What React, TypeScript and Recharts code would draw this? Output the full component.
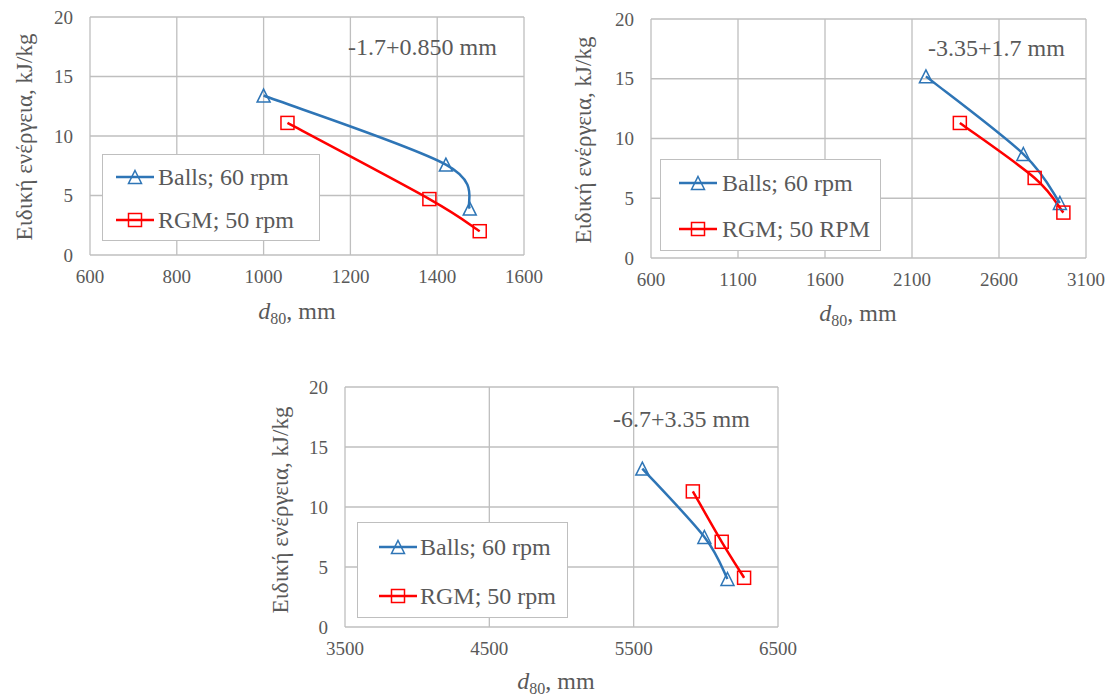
import { LineChart, Line, XAxis, YAxis, CartesianGrid } from 'recharts';

// shared y axis
const yTicks = [0, 5, 10, 15, 20];

// panel 1: -1.7+0.850 mm
const xTicks1 = [600, 800, 1000, 1200, 1400, 1600];
const balls1X = [1000, 1420, 1475];
const balls1Y = [13.4, 7.6, 3.9];
const rgm1X = [1055, 1382, 1498];
const rgm1Y = [11.1, 4.7, 2.0];

// panel 2: -3.35+1.7 mm
const xTicks2 = [600, 1100, 1600, 2100, 2600, 3100];
const balls2X = [2180, 2740, 2950];
const balls2Y = [15.2, 8.7, 4.6];
const rgm2X = [2375, 2805, 2970];
const rgm2Y = [11.3, 6.7, 3.8];

// panel 3: -6.7+3.35 mm
const xTicks3 = [3500, 4500, 5500, 6500];
const balls3X = [5560, 5990, 6150];
const balls3Y = [13.2, 7.5, 4.0];
const rgm3X = [5910, 6110, 6265];
const rgm3Y = [11.3, 7.1, 4.1];

const ballsLabel = 'Balls; 60 rpm';
const rgmLabel = 'RGM; 50 rpm';
const rgmLabel2 = 'RGM; 50 RPM';
const yTitle = 'Ειδική ενέργεια, kJ/kg';

const BLUE = '#2E75B6';
const RED = '#FF0000';
const GRID = '#BFBFBF';
const TEXT = '#595959';
const FONT = "'Liberation Serif', 'Times New Roman', Tinos, 'DejaVu Serif', serif";

const toPoints = (xs: number[], ys: number[]) => xs.map((x, i) => ({ x, y: ys[i] }));

// Excel-like smoothed line (Catmull-Rom as cubic Bezier)
const excelSmooth = (context: any) => {
  let pts: [number, number][] = [];
  return {
    areaStart() {},
    areaEnd() {},
    lineStart() {
      pts = [];
    },
    point(x: number, y: number) {
      pts.push([+x, +y]);
    },
    lineEnd() {
      if (!pts.length) return;
      context.moveTo(pts[0][0], pts[0][1]);
      for (let i = 0; i < pts.length - 1; i++) {
        const p0 = pts[Math.max(i - 1, 0)];
        const p1 = pts[i];
        const p2 = pts[i + 1];
        const p3 = pts[Math.min(i + 2, pts.length - 1)];
        context.bezierCurveTo(
          p1[0] + (p2[0] - p0[0]) / 6,
          p1[1] + (p2[1] - p0[1]) / 6,
          p2[0] - (p3[0] - p1[0]) / 6,
          p2[1] - (p3[1] - p1[1]) / 6,
          p2[0],
          p2[1]
        );
      }
    },
  };
};

function Triangle({ cx, cy, size = 13 }: { cx: number; cy: number; size?: number }) {
  const h = size / 2;
  return (
    <path
      d={`M${cx},${cy - h} L${cx + h},${cy + h} L${cx - h},${cy + h} Z`}
      fill="none"
      stroke={BLUE}
      strokeWidth={1.5}
    />
  );
}

function Square({ cx, cy, size = 13 }: { cx: number; cy: number; size?: number }) {
  return (
    <rect x={cx - size / 2} y={cy - size / 2} width={size} height={size} fill="none" stroke={RED} strokeWidth={1.5} />
  );
}

interface PanelProps {
  left: number;
  top: number;
  width: number;
  height: number;
  margin: { top: number; right: number; bottom: number; left: number };
  domain: [number, number];
  ticks: number[];
  balls: { x: number; y: number }[];
  rgm: { x: number; y: number }[];
  rgmName: string;
  note: string;
  noteAt: [number, number];
  legend: { x: number; y: number; w: number; h: number; rows: [number, number]; lx: number; tx: number };
  yTitleAt: [number, number];
  xTitleAt: [number, number];
}

function LegendRow({ y, lx, tx, kind, label }: { y: number; lx: number; tx: number; kind: 'tri' | 'sq'; label: string }) {
  const color = kind === 'tri' ? BLUE : RED;
  return (
    <div style={{ position: 'absolute', left: 0, top: y - 16, height: 32, display: 'flex', alignItems: 'center' }}>
      <svg width={tx} height={32} style={{ display: 'block' }}>
        <line x1={lx} x2={lx + 38} y1={16} y2={16} stroke={color} strokeWidth={2.5} />
        {kind === 'tri' ? <Triangle cx={lx + 19} cy={16} /> : <Square cx={lx + 19} cy={16} />}
      </svg>
      <span style={{ fontSize: 24, color: TEXT, whiteSpace: 'nowrap' }}>{label}</span>
    </div>
  );
}

function Panel(p: PanelProps) {
  return (
    <div style={{ position: 'absolute', left: p.left, top: p.top, width: p.width, height: p.height, fontFamily: FONT }}>
      <LineChart width={p.width} height={p.height} margin={p.margin} style={{ fontFamily: FONT }}>
        <CartesianGrid stroke={GRID} strokeWidth={1.3} />
        <XAxis
          dataKey="x"
          type="number"
          domain={p.domain}
          ticks={p.ticks}
          interval={0}
          allowDataOverflow
          axisLine={false}
          tickLine={false}
          tickSize={0}
          tickMargin={15}
          height={40}
          tick={{ fill: TEXT, fontSize: 19, fontFamily: FONT }}
        />
        <YAxis
          type="number"
          domain={[0, 20]}
          ticks={yTicks}
          interval={0}
          axisLine={false}
          tickLine={false}
          tickSize={0}
          tickMargin={17}
          width={60}
          tick={{ fill: TEXT, fontSize: 19, fontFamily: FONT }}
        />
        <Line
          data={p.balls}
          dataKey="y"
          type={excelSmooth as any}
          stroke={BLUE}
          strokeWidth={2.5}
          isAnimationActive={false}
          dot={(d: any) => <Triangle key={`b${d.index}`} cx={d.cx} cy={d.cy} />}
          activeDot={false}
        />
        <Line
          data={p.rgm}
          dataKey="y"
          type={excelSmooth as any}
          stroke={RED}
          strokeWidth={2.5}
          isAnimationActive={false}
          dot={(d: any) => <Square key={`r${d.index}`} cx={d.cx} cy={d.cy} />}
          activeDot={false}
        />
      </LineChart>

      <div
        style={{
          position: 'absolute',
          left: p.noteAt[0],
          top: p.noteAt[1] - 14,
          fontSize: 24,
          lineHeight: '28px',
          color: TEXT,
          whiteSpace: 'nowrap',
        }}
      >
        {p.note}
      </div>

      <div
        style={{
          position: 'absolute',
          left: p.legend.x,
          top: p.legend.y,
          width: p.legend.w,
          height: p.legend.h,
          border: `1.3px solid ${GRID}`,
          boxSizing: 'border-box',
          background: '#fff',
        }}
      >
        <LegendRow y={p.legend.rows[0]} lx={p.legend.lx} tx={p.legend.tx} kind="tri" label={ballsLabel} />
        <LegendRow y={p.legend.rows[1]} lx={p.legend.lx} tx={p.legend.tx} kind="sq" label={p.rgmName} />
      </div>

      <div
        style={{
          position: 'absolute',
          left: p.yTitleAt[0],
          top: p.yTitleAt[1],
          transform: 'translate(-50%, -50%) rotate(-90deg)',
          fontSize: 23,
          lineHeight: 1,
          color: TEXT,
          whiteSpace: 'nowrap',
        }}
      >
        {yTitle}
      </div>

      <div
        style={{
          position: 'absolute',
          left: p.xTitleAt[0],
          top: p.xTitleAt[1],
          transform: 'translate(-50%, -50%)',
          fontSize: 24,
          lineHeight: 1,
          color: TEXT,
          whiteSpace: 'nowrap',
        }}
      >
        <span style={{ fontStyle: 'italic' }}>d</span>
        <sub style={{ fontSize: 16, lineHeight: 1 }}>80</sub>, mm
      </div>
    </div>
  );
}

export default function App() {
  return (
    <div style={{ position: 'absolute', left: 0, top: 0, width: 1108, height: 698, background: '#fff' }}>
      <Panel
        left={0}
        top={0}
        width={560}
        height={330}
        margin={{ top: 17, right: 36, bottom: 35, left: 30 }}
        domain={[600, 1600]}
        ticks={xTicks1}
        balls={toPoints(balls1X, balls1Y)}
        rgm={toPoints(rgm1X, rgm1Y)}
        rgmName={rgmLabel}
        note="-1.7+0.850 mm"
        noteAt={[348, 47]}
        legend={{ x: 102, y: 154, w: 218, h: 87, rows: [22, 65], lx: 13, tx: 55 }}
        yTitleAt={[24, 137]}
        xTitleAt={[297, 313]}
      />
      <Panel
        left={560}
        top={0}
        width={548}
        height={330}
        margin={{ top: 19, right: 22, bottom: 32, left: 31 }}
        domain={[600, 3100]}
        ticks={xTicks2}
        balls={toPoints(balls2X, balls2Y)}
        rgm={toPoints(rgm2X, rgm2Y)}
        rgmName={rgmLabel2}
        note="-3.35+1.7 mm"
        noteAt={[368, 48]}
        legend={{ x: 100, y: 159, w: 221, h: 92, rows: [23, 69], lx: 18, tx: 61 }}
        yTitleAt={[23, 140]}
        xTitleAt={[298, 315]}
      />
      <Panel
        left={260}
        top={360}
        width={540}
        height={338}
        margin={{ top: 27, right: 22, bottom: 31, left: 25 }}
        domain={[3500, 6500]}
        ticks={xTicks3}
        balls={toPoints(balls3X, balls3Y)}
        rgm={toPoints(rgm3X, rgm3Y)}
        rgmName={rgmLabel}
        note="-6.7+3.35 mm"
        noteAt={[353, 59]}
        legend={{ x: 97, y: 162, w: 211, h: 96, rows: [24, 73], lx: 21, tx: 62 }}
        yTitleAt={[20, 150]}
        xTitleAt={[296, 323]}
      />
    </div>
  );
}
